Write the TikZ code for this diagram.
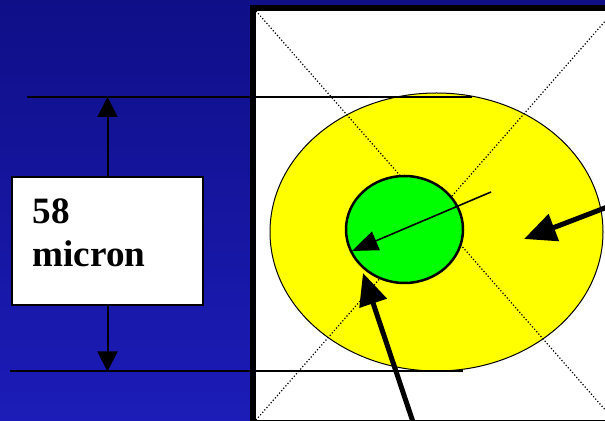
\documentclass[tikz,border=0pt]{standalone}
\usepackage{fontspec}
\setmainfont{Liberation Serif}
\usetikzlibrary{positioning,shapes.geometric,arrows.meta}
\definecolor{navytop}{RGB}{15,15,136}
\definecolor{navybottom}{RGB}{28,28,184}
\definecolor{cladyellow}{RGB}{255,255,0}
\definecolor{coregreen}{RGB}{0,255,0}

\begin{document}
\begin{tikzpicture}[
  x=0.5pt, y=-0.5pt,
  fibreframe/.style={draw, line width=3pt, fill=white},
  diag/.style={densely dotted, line width=0.6pt},
  dimline/.style={line width=1pt},
  dimarrow/.style={-{Triangle[length=10pt, width=10pt]}, line width=1pt},
  thinarrow/.style={-{Triangle[length=13pt, width=10pt]}, line width=0.8pt},
  thickarrow/.style={-{Triangle[length=16pt, width=14pt]}, line width=2.5pt},
  cladding/.style={ellipse, draw, fill=cladyellow, line width=0.5pt, inner sep=0pt, minimum width=166.5pt, minimum height=139pt},
  core/.style={ellipse, draw, fill=coregreen, line width=1.25pt, inner sep=0pt, minimum width=58.5pt, minimum height=53.5pt},
  lengthbox/.style={draw, fill=white, line width=0.8pt, minimum width=95.5pt, minimum height=64pt},
  lengthtext/.style={align=left, inner sep=0pt, font=\bfseries\fontsize{18.6}{21.5}\selectfont}
]
\useasboundingbox (0,0) rectangle (605,421);
\clip (0,0) rectangle (605,421);
\shade[top color=navytop, bottom color=navybottom] (0,0) rectangle (605,421);

% frame with the fibre image
\draw[fibreframe] (253,8) rectangle (617,423);
\node[cladding] (clad) at (436.5,232) {};
\draw[diag] (256,11) -- (614,420);
\draw[diag] (256,420) -- (614,11);
\node[core] (core) at (404.5,229.5) {};

% size markers
\coordinate (topL) at (27,97);
\coordinate (topR) at (472,97);
\coordinate (botL) at (10,371.5);
\coordinate (botR) at (463,371.5);
\draw[dimline] (topL) -- (topR);
\draw[dimline] (botL) -- (botR);

\node[lengthbox] (dimbox) at (107.5,241) {};
\node[lengthtext, anchor=north west] (dimtext) at (32,198) {58\\micron};
\draw[dimarrow] (dimbox.north) -- (dimbox.north |- topL);
\draw[dimarrow] (dimbox.south) -- (dimbox.south |- botL);

% pointers
\coordinate (rtail) at (491,192);
\coordinate (rtip) at (352,251);
\coordinate (ptail) at (610,206);
\coordinate (ptip) at (524,239);
\coordinate (qtail) at (415,428);
\coordinate (qtip) at (363,273);
\draw[thinarrow] (rtail) -- (rtip);
\draw[thickarrow] (ptail) -- (ptip);
\draw[thickarrow] (qtail) -- (qtip);
\end{tikzpicture}
\end{document}
